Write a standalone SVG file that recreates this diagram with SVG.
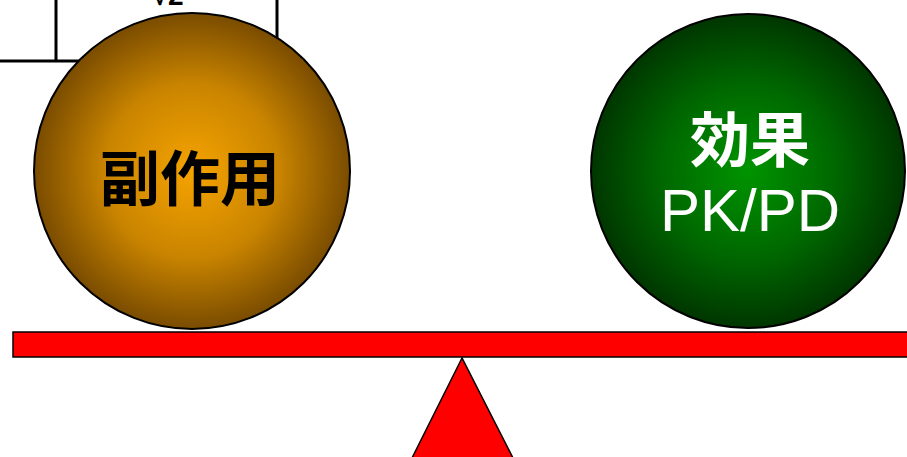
<svg xmlns="http://www.w3.org/2000/svg" width="907" height="457" viewBox="0 0 907 457">
  <style>
    .frame { stroke: #000; stroke-width: 3; fill: none; }
    .ball { stroke: #000; stroke-width: 2; }
    .cjk { font-family: "Noto Sans CJK JP", "Noto Sans CJK SC", sans-serif; font-weight: bold; font-size: 60px; text-anchor: middle; }
    .latin { font-family: "Liberation Sans", Arial, sans-serif; font-size: 60px; text-anchor: middle; }
    .red { fill: #ff0000; stroke: #000; stroke-width: 1.5; }
  </style>
  <defs>
    <radialGradient id="gOrange" cx="50%" cy="50%" r="50%">
      <stop offset="0" stop-color="#f5a300"/>
      <stop offset="0.55" stop-color="#c98400"/>
      <stop offset="1" stop-color="#7a4c00"/>
    </radialGradient>
    <radialGradient id="gGreen" cx="50%" cy="50%" r="50%">
      <stop offset="0" stop-color="#009400"/>
      <stop offset="0.55" stop-color="#006800"/>
      <stop offset="1" stop-color="#003600"/>
    </radialGradient>
  </defs>

  <g id="top-box">
    <path class="frame" d="M56,0 V61 M277,0 V60 M0,61 H277"/>
    <text x="168" y="5" font-family="Liberation Sans, Arial, sans-serif" font-weight="bold" font-size="28" text-anchor="middle">√2</text>
  </g>

  <g id="side-effect">
    <circle class="ball" cx="192" cy="171" r="158" fill="url(#gOrange)"/>
    <text class="cjk" x="190" y="201" fill="#000">副作用</text>
  </g>

  <g id="effect">
    <circle class="ball" cx="748" cy="171" r="157" fill="url(#gGreen)"/>
    <text class="cjk" x="750" y="162" fill="#fff">効果</text>
    <text class="latin" x="750" y="231" fill="#fff">PK/PD</text>
  </g>

  <g id="balance">
    <rect class="red" x="13" y="332" width="900" height="25"/>
    <polygon class="red" points="462,358 412,458 513,458"/>
  </g>
</svg>
